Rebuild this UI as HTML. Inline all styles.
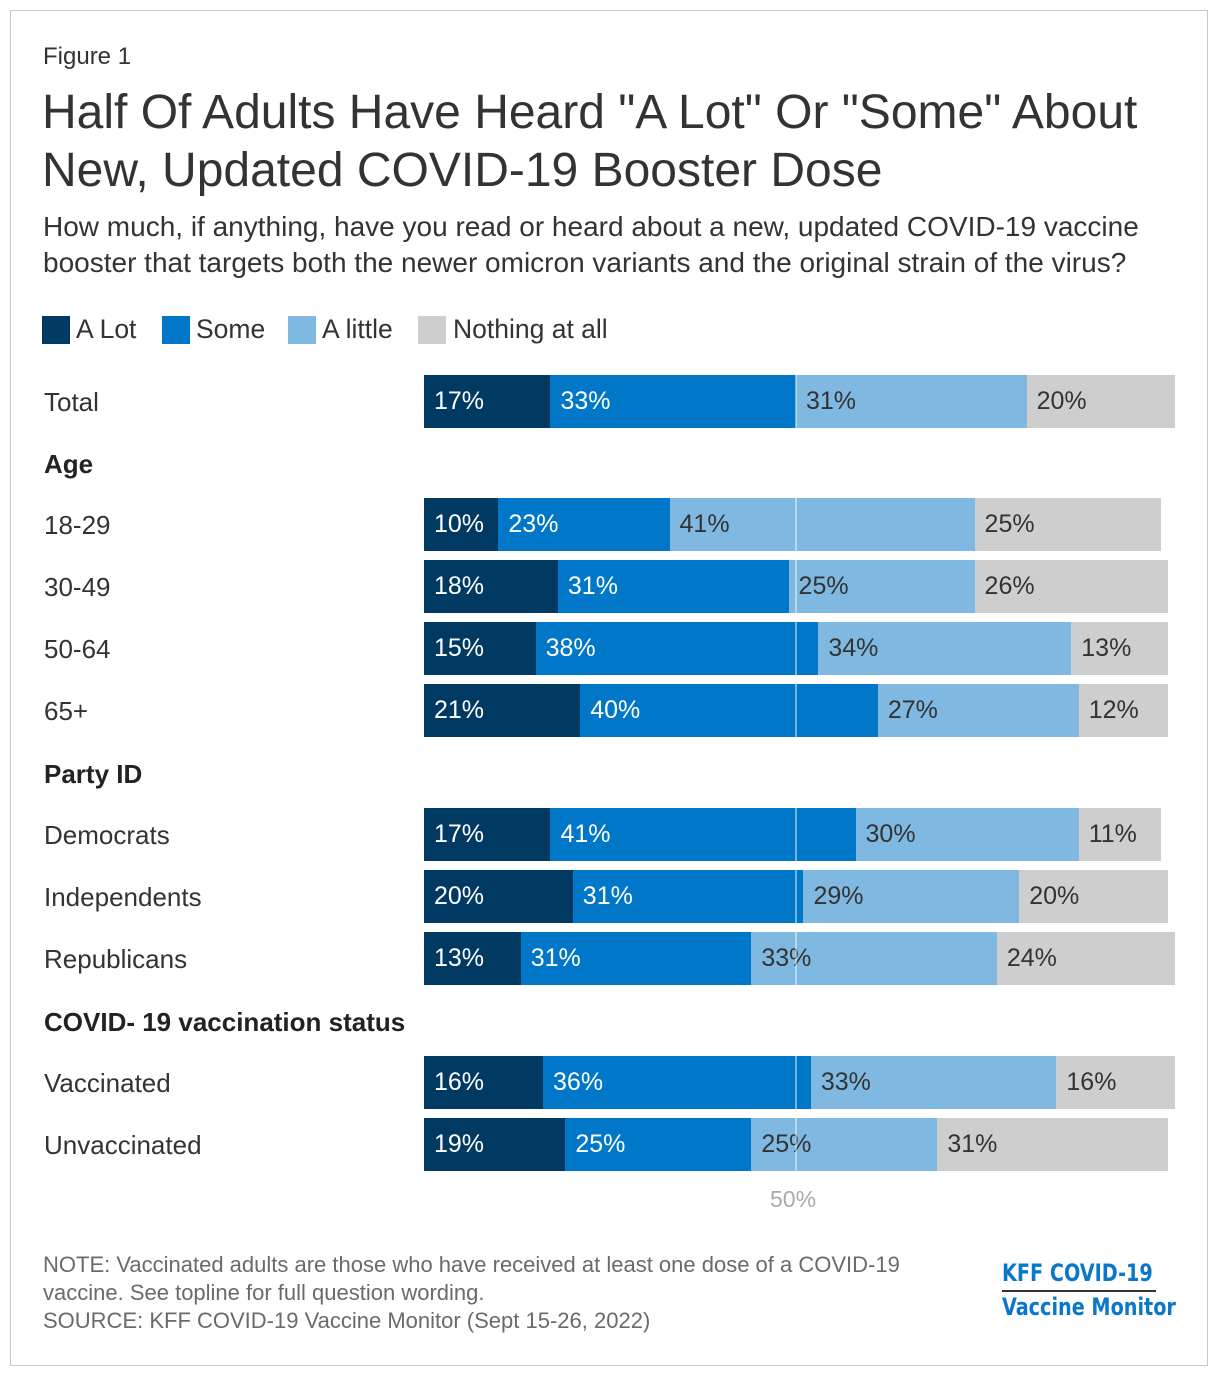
<!DOCTYPE html>
<html><head><meta charset="utf-8"><style>
body{margin:0;width:1220px;height:1380px;background:#fff;font-family:"Liberation Sans",Arial,sans-serif;position:relative;overflow:hidden}
.frame{position:absolute;left:10px;top:10px;width:1198px;height:1356px;border:1px solid #c8c8c8;box-sizing:border-box}
.t{position:absolute;white-space:nowrap;color:#333}
</style></head><body>
<div class="frame"></div>
<div class="t" style="left:43px;top:43px;font-size:24px">Figure 1</div>
<div class="t" style="left:42px;top:84px;font-size:48px;line-height:58px;color:#333">Half Of Adults Have Heard "A Lot" Or "Some" About<br>New, Updated COVID-19 Booster Dose</div>
<div class="t" style="left:43px;top:209px;font-size:28px;line-height:36px">How much, if anything, have you read or heard about a new, updated COVID-19 vaccine<br>booster that targets both the newer omicron variants and the original strain of the virus?</div>
<div id="legend"></div>
<div id="chart"></div>
<div class="t" style="left:43px;top:1251px;font-size:22px;line-height:28px;color:#6a6a6a">NOTE: Vaccinated adults are those who have received at least one dose of a COVID-19<br>vaccine. See topline for full question wording.<br>SOURCE: KFF COVID-19 Vaccine Monitor (Sept 15-26, 2022)</div>
<div class="t" style="left:1002px;top:1259px;font-size:24px;font-weight:bold;color:#0a78c8;font-family:'DejaVu Sans Condensed','DejaVu Sans',sans-serif;transform:scaleX(0.89);transform-origin:left">KFF COVID-19</div>
<div style="position:absolute;left:1002px;top:1290px;width:154px;height:2px;background:#333"></div>
<div class="t" style="left:1002px;top:1293px;font-size:24px;font-weight:bold;color:#0a78c8;font-family:'DejaVu Sans Condensed','DejaVu Sans',sans-serif;transform:scaleX(0.89);transform-origin:left">Vaccine Monitor</div>
<script>
const seriesNames=["A Lot","Some","A little","Nothing at all"];
const colors=["#003a63","#0077c8","#7fb9e2","#cecece"];
const categories=["Total","Age","18-29","30-49","50-64","65+","Party ID","Democrats","Independents","Republicans","COVID- 19 vaccination status","Vaccinated","Unvaccinated"];
const aLot=[17,null,10,18,15,21,null,17,20,13,null,16,19];
const some=[33,null,23,31,38,40,null,41,31,31,null,36,25];
const aLittle=[31,null,41,25,34,27,null,30,29,33,null,33,25];
const nothing=[20,null,25,26,13,12,null,11,20,24,null,16,31];
const refTick=50;
const x0=424,pxPer=7.44;
function xs(v){return x0+v*pxPer;}
const rowY=[375,449,498,560,622,684,759,808,870,932,1007,1056,1118];
const lg=document.getElementById('legend');
const lw=[[42,76],[162,196],[288,322],[418,453]];
seriesNames.forEach((n,i)=>{
 const sw=document.createElement('div');
 sw.style.cssText=`position:absolute;left:${lw[i][0]}px;top:316px;width:28px;height:28px;background:${colors[i]}`;
 
 
 lg.appendChild(sw);
 const t=document.createElement('div');t.className='t';
 t.style.cssText=`left:${lw[i][1]}px;top:314px;font-size:26.5px`;
 t.textContent=n;
 
 
 lg.appendChild(t);
});
const ch=document.getElementById('chart');
const series=[aLot,some,aLittle,nothing];
categories.forEach((c,r)=>{
 const isHead=aLot[r]===null;
 const y=rowY[r];
 const lab=document.createElement('div');lab.className='t';
 lab.style.cssText=`left:44px;top:${isHead?y:y+12}px;font-size:26px;${isHead?'font-weight:bold;font-size:26px;color:#222':''}`;
 lab.textContent=c;
 
 
 ch.appendChild(lab);
 if(isHead)return;
 let cum=0;
 series.forEach((s,i)=>{
  const v=s[r];
  const b=document.createElement('div');
  b.style.cssText=`position:absolute;left:${xs(cum)}px;top:${y}px;width:${v*pxPer}px;height:53px;background:${colors[i]}`;
  
  
  ch.appendChild(b);
  const t=document.createElement('div');t.className='t';
  t.style.cssText=`left:${xs(cum)+10}px;top:${y+12}px;font-size:25px;color:${i<2?'#fff':'#333'}`;
  t.textContent=v+'%';
  
  
  ch.appendChild(t);
  cum+=v;
 });
});
const line=document.createElement('div');
line.style.cssText=`position:absolute;left:${xs(refTick)-1}px;top:375px;width:2px;height:796px;background:rgba(255,255,255,0.45)`;


ch.appendChild(line);
const rl=document.createElement('div');rl.className='t';
rl.style.cssText=`left:${xs(refTick)-26}px;top:1186px;font-size:23px;color:#aaa`;
rl.textContent=refTick+'%';


ch.appendChild(rl);
</script>
</body></html>
